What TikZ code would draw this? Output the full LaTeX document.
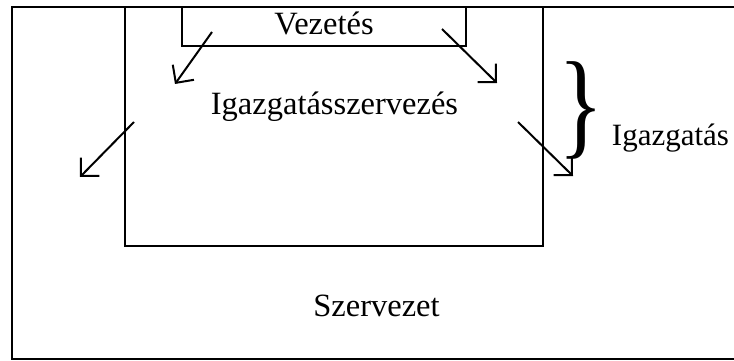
\documentclass[tikz,border=0pt]{standalone}
\usepackage{fontspec}
\setmainfont{Liberation Serif}
\usetikzlibrary{arrows.meta}
\begin{document}
\begin{tikzpicture}[x=1pt,y=-1pt,
  frame/.style={line width=2pt},
  arr/.style={line width=2pt,-{Straight Barb[length=13pt,width=26pt,line width=2pt]}},
  lbl/.style={inner sep=0pt,anchor=base,font=\fontsize{32.5}{38}\selectfont}]
\useasboundingbox (0,0) rectangle (734,361);
% outer frame (no right side visible)
\draw[frame] (740,7) -- (12,7) -- (12,359) -- (740,359);
% inner rectangle
\draw[frame] (125,7) rectangle (543,246);
% Vezetes box
\draw[frame] (182,7) rectangle (466,46);
% labels
\node[lbl] (vez) at (324,35) {Vezetés};
\node[lbl] (isz) at (334.5,114) {Igazgatásszervezés};
\node[lbl] (sze) at (376.5,316) {Szervezet};
\node[lbl,font=\fontsize{31}{36}\selectfont] (igz) at (670.5,145) {Igazgatás};
% brace
\node[inner sep=0pt,font=\fontsize{118}{118}\selectfont,xscale=0.8] (br) at (581,110) {\}};
% arrows
\coordinate (a1s) at (212,32); \coordinate (a1e) at (175,84);
\coordinate (a2s) at (442,29); \coordinate (a2e) at (497,83);
\coordinate (a3s) at (518,122); \coordinate (a3e) at (573,176);
\coordinate (a4s) at (134,122); \coordinate (a4e) at (80,177);
\draw[arr] (a1s) -- (a1e);
\draw[arr] (a2s) -- (a2e);
\draw[arr] (a3s) -- (a3e);
\draw[arr] (a4s) -- (a4e);
\end{tikzpicture}
\end{document}
